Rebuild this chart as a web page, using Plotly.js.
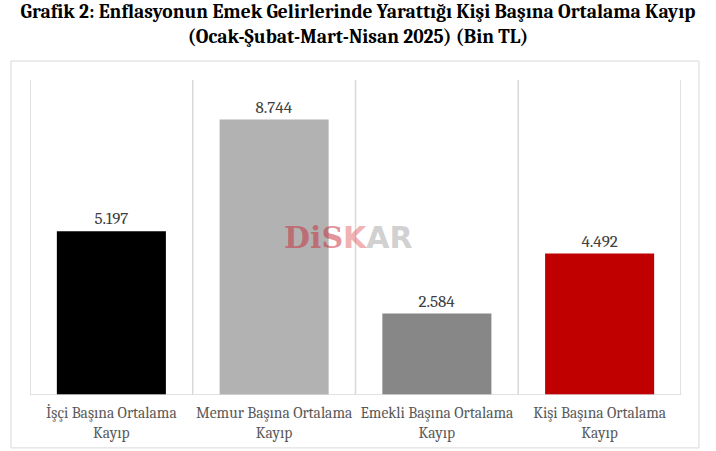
<!DOCTYPE html>
<html><head><meta charset="utf-8">
<script src="https://cdn.plot.ly/plotly-3.0.1.min.js"></script>
<style>body{margin:0;background:#fff}#c{width:716px;height:451px}</style>
</head><body><div id="c"></div>
<script>
const categories = ["İşçi Başına Ortalama<br>Kayıp", "Memur Başına Ortalama<br>Kayıp", "Emekli Başına Ortalama<br>Kayıp", "Kişi Başına Ortalama<br>Kayıp"];
const values = [5.197, 8.744, 2.584, 4.492];
const valueLabels = ["5.197", "8.744", "2.584", "4.492"];
const barColors = ["#000000", "#b2b2b2", "#878787", "#c00000"];

const serif = "Cambria, 'Liberation Serif', serif";
const shapes = [];
for (let i = 0; i <= categories.length; i++) {
  shapes.push({type:'line', xref:'x', yref:'paper', x0:i-0.5, x1:i-0.5, y0:0, y1:1, line:{color:'#d9d9d9', width:1.5}, layer:'below'});
}
shapes.push({type:'line', xref:'x', yref:'y', x0:-0.5, x1:categories.length-0.5, y0:0, y1:0, line:{color:'#d9d9d9', width:1.5}});
shapes.push({type:'rect', xref:'paper', yref:'paper', x0:-0.0292, x1:1.0276, y0:-0.168, y1:1.0603, line:{color:'#d9d9d9', width:1}, layer:'below'});

Plotly.newPlot('c', [{
  type:'bar', x:[0,1,2,3], y:values, marker:{color:barColors},
  text:valueLabels, textposition:'outside', cliponaxis:false,
  textfont:{family:serif, size:17, color:'#404040'}, hoverinfo:'none'
}], {
  width:716, height:451,
  margin:{l:30, r:35, t:80, b:56},
  paper_bgcolor:'#fff', plot_bgcolor:'#fff',
  bargap:0.33, showlegend:false,
  title:{text:'<b>Grafik 2: Enflasyonun Emek Gelirlerinde Yarattığı Kişi Başına Ortalama Kayıp<br>(Ocak-Şubat-Mart-Nisan 2025) (Bin TL)</b>',
    font:{family:serif, size:19.5, color:'#000'}, x:0.5, xref:'container', xanchor:'center', y:0.96, yref:'container', yanchor:'middle'},
  xaxis:{range:[-0.5,3.5], tickmode:'array', tickvals:[0,1,2,3], ticktext:categories, showgrid:false, zeroline:false, showline:false, ticks:'',
    ticklabelstandoff:6, tickfont:{family:serif, size:15.5, color:'#595959'}},
  yaxis:{range:[0,10], visible:false, showgrid:false, zeroline:false},
  shapes:shapes,
  annotations:[{xref:'paper', yref:'paper', x:0.49, y:0.5, showarrow:false,
    text:'<b><span style="font-family:\'DejaVu Serif\';color:rgba(200,40,55,0.5)">DiS</span><span style="color:rgba(225,80,90,0.45)">K</span><span style="color:rgba(150,150,150,0.45)">AR</span></b>',
    font:{family:"'DejaVu Sans', sans-serif", size:30}}]
}, {displayModeBar:false, staticPlot:true});
</script></body></html>
